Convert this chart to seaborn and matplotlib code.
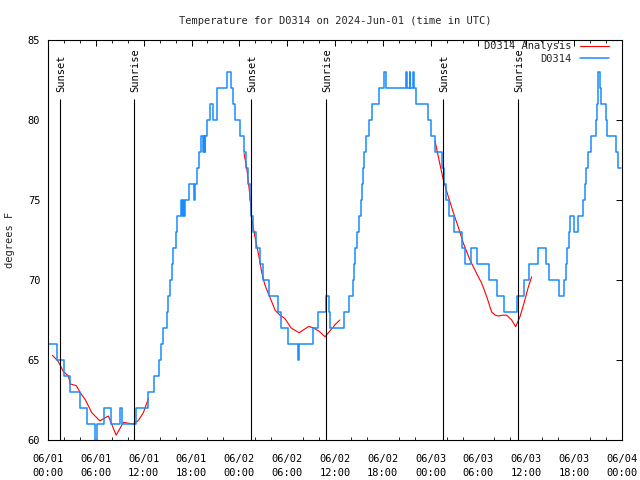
import numpy as np
import pandas as pd
import matplotlib
matplotlib.use("Agg")
import matplotlib.pyplot as plt
import seaborn as sns

# ---------------- data ----------------
title = "Temperature for D0314 on 2024-Jun-01 (time in UTC)"
ylabel = "degrees F"

# observed D0314 temperature: change points (hours since 06/01 00:00 UTC, deg F)
obs_hours = [0.0, 1.15, 2.05, 2.8, 4.05, 4.9, 5.95, 6.15, 6.98, 7.95, 9.05, 9.3, 11.0,
             12.6, 13.3, 13.95, 14.15, 14.45, 14.95, 15.1, 15.3, 15.55, 15.7, 16.0, 16.2,
             16.68, 16.85, 16.95, 17.05, 17.15, 17.7, 18.3, 18.4, 18.7, 19.0, 19.25, 19.45,
             19.55, 19.65, 19.75, 20.0, 20.3, 20.75, 21.2, 22.4, 22.95, 23.15, 23.5,
             24.1, 24.55, 24.85, 25.1, 25.35, 25.5, 25.7, 26.05, 26.6, 27.0, 27.7, 28.8,
             29.25, 30.1, 31.3, 31.5, 33.2, 33.85, 34.85, 35.25, 35.4, 37.1, 37.8, 38.2,
             38.4, 38.55, 38.8, 39.05, 39.2, 39.4, 39.55, 39.7, 39.95, 40.3, 40.7, 41.55,
             42.2, 42.35, 44.9, 45.0, 45.35, 45.45, 45.75, 45.9, 46.2, 47.65, 48.05, 48.6,
             49.45, 49.7, 49.9, 50.3, 50.95, 51.9, 52.3, 53.05, 53.8, 55.3, 56.3, 57.25,
             58.8, 59.7, 60.3, 61.5, 62.45, 62.8, 64.05, 64.75, 64.95, 65.15, 65.3, 65.5,
             65.95, 66.45, 67.15, 67.3, 67.5, 67.75, 68.05, 68.75, 68.9, 69.05, 69.25,
             69.35, 69.95, 70.15, 71.2, 71.5, 71.9]
obs_temps = [66, 65, 64, 63, 62, 61, 60, 61, 62, 61, 62, 61, 62,
             63, 64, 65, 66, 67, 68, 69, 70, 71, 72, 73, 74,
             75, 74, 75, 74, 75, 76, 75, 76, 77, 78, 79, 78,
             79, 78, 79, 80, 81, 80, 82, 83, 82, 81, 80,
             79, 78, 77, 76, 75, 74, 73, 72, 71, 70, 69, 68,
             67, 66, 65, 66, 67, 68, 69, 68, 67, 68, 69, 70,
             71, 72, 73, 74, 75, 76, 77, 78, 79, 80, 81, 82,
             83, 82, 83, 82, 83, 82, 83, 82, 81, 80, 79, 78,
             77, 76, 75, 74, 73, 72, 71, 72, 71, 70, 69, 68,
             69, 70, 71, 72, 71, 70, 69, 70, 71, 72, 73, 74,
             73, 74, 75, 76, 77, 78, 79, 80, 81, 83, 82,
             81, 80, 79, 78, 77, 77]

# D0314 Analysis (three overnight segments)
ana1_hours = [0.55, 1.3, 1.9, 2.55, 2.8, 3.55, 4.0, 4.7, 5.5, 6.5, 7.57, 8.55, 9.45,
              10.7, 11.3, 11.96, 12.6]
ana1_temps = [65.3, 64.9, 64.3, 64.0, 63.5, 63.4, 63.0, 62.5, 61.7, 61.2, 61.5, 60.3, 61.1,
              61.0, 61.2, 61.7, 62.6]
ana2_hours = [24.6, 24.95, 25.3, 25.55, 26.0, 26.45, 26.8, 27.2, 27.85, 28.5, 29.1, 29.7,
              30.5, 31.5, 32.7, 33.3, 34.0, 34.75, 35.5, 36.0, 36.6]
ana2_temps = [77.9, 76.9, 75.4, 73.8, 72.6, 71.5, 70.5, 69.7, 68.9, 68.1, 67.8, 67.6,
              67.0, 66.7, 67.1, 67.0, 66.8, 66.45, 66.9, 67.2, 67.5]
ana3_hours = [48.55, 48.96, 49.59, 50.22, 50.85, 51.47, 52.1, 52.93, 53.77, 54.4, 55.03,
              55.65, 56.1, 56.49, 57.0, 57.53, 58.16, 58.66, 59.2, 59.7, 60.26, 60.67]
ana3_temps = [78.7, 77.7, 76.25, 75.2, 74.2, 73.3, 72.3, 71.25, 70.4, 69.8, 68.96,
              68.0, 67.8, 67.75, 67.8, 67.8, 67.5, 67.08, 67.7, 68.54, 69.58, 70.2]

# sunset / sunrise events (hours since 06/01 00:00 UTC)
sun_hours = [1.45, 10.8, 25.5, 34.87, 49.6, 58.98]
sun_labels = ["Sunset", "Sunrise", "Sunset", "Sunrise", "Sunset", "Sunrise"]

# x tick labels (every 6 hours)
xtick_hours = list(range(0, 73, 6))
xtick_labels = ["06/01\n00:00", "06/01\n06:00", "06/01\n12:00", "06/01\n18:00",
                "06/02\n00:00", "06/02\n06:00", "06/02\n12:00", "06/02\n18:00",
                "06/03\n00:00", "06/03\n06:00", "06/03\n12:00", "06/03\n18:00",
                "06/04\n00:00"]
yticks = [60, 65, 70, 75, 80, 85]

# ---------------- styling ----------------
sns.set_style("white")
FONT = ["DejaVu Sans Mono"]
plt.rcParams["font.family"] = FONT
plt.rcParams["font.size"] = 7.5

obs_df = pd.DataFrame({"hour": obs_hours, "temp": obs_temps})
ana_dfs = [pd.DataFrame({"hour": h, "temp": t})
           for h, t in [(ana1_hours, ana1_temps), (ana2_hours, ana2_temps), (ana3_hours, ana3_temps)]]

fig = plt.figure(figsize=(6.4, 4.8), dpi=100)
ax = fig.add_axes([48 / 640, 40 / 480, 574 / 640, 400 / 480])

red = "#ff0000"
blue = "#1a8cff"

for i, d in enumerate(ana_dfs):
    sns.lineplot(data=d, x="hour", y="temp", ax=ax, color=red, lw=0.8,
                 estimator=None, sort=False, zorder=2,
                 label="D0314 Analysis" if i == 0 else "_nolegend_")
sns.lineplot(data=obs_df, x="hour", y="temp", ax=ax, color=blue, lw=1.1,
             estimator=None, sort=False, drawstyle="steps-post", zorder=2.5,
             label="D0314")

ax.vlines(sun_hours, 60, 81.3, colors="black", lw=0.8, zorder=3)
for h, lab in zip(sun_hours, sun_labels):
    ax.text(h + 0.15, 81.75, lab, rotation=90, ha="center", va="bottom",
            fontsize=7.5, color="black")

ax.set_xlim(0, 72)
ax.set_ylim(60, 85)
ax.set_xticks(xtick_hours)
ax.set_xticklabels(xtick_labels, linespacing=1.5)
ax.set_xticks(np.arange(0, 73, 2), minor=True)
ax.set_yticks(yticks)
ax.set_yticklabels([str(v) for v in yticks])

ax.tick_params(axis="both", which="major", direction="in", length=4.5, width=0.7,
               top=True, right=True, labelsize=7.5, color="black", labelcolor="black")
ax.tick_params(axis="x", which="major", pad=10)
ax.tick_params(axis="y", which="major", pad=5.5)
ax.tick_params(axis="x", which="minor", direction="in", length=2.3, width=0.7,
               top=True, bottom=True)
for s in ax.spines.values():
    s.set_visible(True)
    s.set_color("black")
    s.set_linewidth(0.8)

ax.set_xlabel("")
ax.set_ylabel(ylabel, fontsize=7.5)
ax.yaxis.label.set_va("center")
ax.yaxis.set_label_coords(-38 / 574, 0.5)
ax.set_title(title, fontsize=7.5, pad=11.5)

leg = ax.legend(loc="upper right", bbox_to_anchor=(0.978, 0.997), frameon=False,
                markerfirst=False, handlelength=2.8, handletextpad=0.8,
                labelspacing=0.25, borderpad=0, borderaxespad=0, fontsize=7.5)
try:
    for col in leg._legend_handle_box.get_children():
        col.align = "right"
except Exception:
    pass

fig.savefig("out.png", dpi=100)
